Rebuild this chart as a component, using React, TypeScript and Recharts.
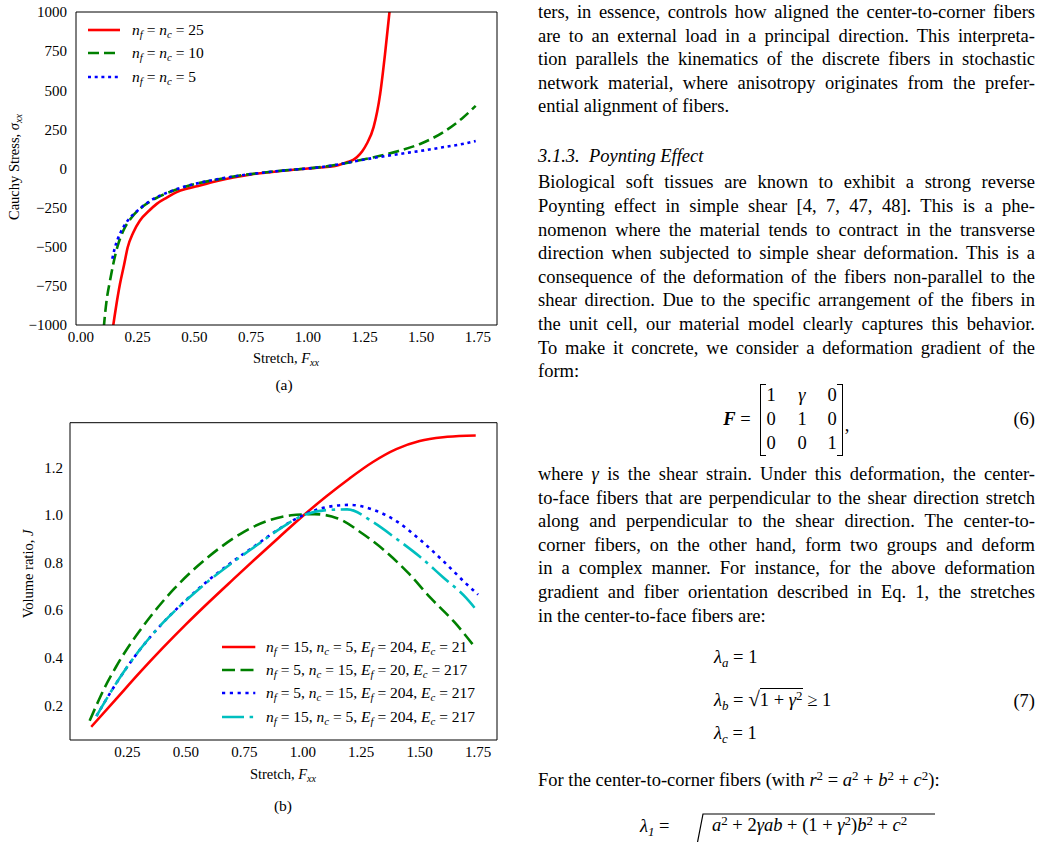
import React from 'react';
import { LineChart, Line, XAxis, YAxis, Legend } from 'recharts';

const SERIF = '"Liberation Serif", "Times New Roman", Times, serif';

// ---------- (a) Cauchy stress vs stretch ----------
const stretchTicksA = [0, 0.25, 0.5, 0.75, 1.0, 1.25, 1.5, 1.75];
const stressTicks = [-1000, -750, -500, -250, 0, 250, 500, 750, 1000];

const n25X = [0.135, 0.1425, 0.155, 0.172, 0.19, 0.206, 0.23, 0.26, 0.3, 0.334, 0.38, 0.422, 0.47, 0.525, 0.6, 0.672, 0.75, 0.819, 0.9, 1.0, 1.05, 1.114, 1.172, 1.2, 1.216, 1.24, 1.26, 1.29, 1.319, 1.341, 1.36, 1.375];
const n25Y = [-1080, -1000, -880, -737, -615, -503, -410, -332, -270, -226, -185, -151, -128, -108, -80, -57, -38, -26, -13, 0, 6, 15, 40, 55, 72, 110, 158, 264, 477, 740, 1000, 1220];

const n10X = [0.095, 0.1015, 0.113, 0.128, 0.1425, 0.16, 0.187, 0.224, 0.275, 0.33, 0.4, 0.5, 0.6, 0.7, 0.8, 0.9, 1.0, 1.1, 1.2, 1.3, 1.4, 1.5, 1.6, 1.68, 1.74];
const n10Y = [-1120, -1000, -843, -716, -609, -503, -396, -311, -240, -190, -145, -100, -70, -45, -27, -12, 0, 17, 44, 75, 112, 160, 235, 320, 400];

const n5X = [0.138, 0.15, 0.172, 0.2, 0.25, 0.3, 0.4, 0.5, 0.6, 0.7, 0.8, 0.9, 1.0, 1.1, 1.2, 1.3, 1.4, 1.5, 1.6, 1.7, 1.74];
const n5Y = [-577, -503, -417, -345, -268, -212, -143, -99, -69, -45, -27, -12, 0, 17, 44, 70, 92, 113, 137, 162, 176];

const legendA = ['25', '10', '5'];

// ---------- (b) volume ratio vs stretch ----------
const stretchTicksB = [0.25, 0.5, 0.75, 1.0, 1.25, 1.5, 1.75];
const volumeTicks = [0.2, 0.4, 0.6, 0.8, 1.0, 1.2];

const redBX = [0.095, 0.2, 0.3, 0.4, 0.5, 0.6, 0.7, 0.8, 0.9, 1.0, 1.1, 1.2, 1.3, 1.4, 1.5, 1.6, 1.7, 1.74];
const redBY = [0.11, 0.225, 0.335, 0.44, 0.54, 0.635, 0.727, 0.818, 0.907, 0.995, 1.077, 1.153, 1.222, 1.276, 1.31, 1.326, 1.332, 1.333];

const greenBX = [0.088, 0.117, 0.15, 0.2, 0.25, 0.3, 0.35, 0.4, 0.45, 0.55, 0.65, 0.75, 0.85, 0.95, 1.05, 1.15, 1.25, 1.35, 1.45, 1.55, 1.65, 1.74];
const greenBY = [0.135, 0.2, 0.27, 0.36, 0.44, 0.51, 0.575, 0.635, 0.69, 0.785, 0.865, 0.93, 0.975, 0.998, 1.003, 0.985, 0.925, 0.85, 0.757, 0.648, 0.548, 0.44];

const blueBX = [0.117, 0.2, 0.3, 0.4, 0.5, 0.6, 0.7, 0.8, 0.9, 1.0, 1.1, 1.2, 1.3, 1.4, 1.5, 1.6, 1.7, 1.75];
const blueBY = [0.155, 0.29, 0.43, 0.545, 0.642, 0.728, 0.804, 0.873, 0.942, 0.998, 1.032, 1.042, 1.022, 0.974, 0.897, 0.807, 0.71, 0.665];

const cyanBX = [0.117, 0.2, 0.3, 0.4, 0.5, 0.6, 0.7, 0.8, 0.9, 1.0, 1.1, 1.19, 1.3, 1.4, 1.5, 1.6, 1.7, 1.735];
const cyanBY = [0.155, 0.29, 0.43, 0.545, 0.64, 0.725, 0.8, 0.87, 0.94, 0.997, 1.02, 1.023, 0.97, 0.9, 0.825, 0.738, 0.65, 0.61];

const legendB = [
  { nf: '15', nc: '5', ef: '204', ec: '21' },
  { nf: '5', nc: '15', ef: '20', ec: '217' },
  { nf: '5', nc: '15', ef: '204', ec: '217' },
  { nf: '15', nc: '5', ef: '204', ec: '217' },
];

const zip = (xs: number[], ys: number[]) => xs.map((x, i) => ({ x, y: ys[i] }));

// minor tick positions (axis decoration only)
const steps = (from: number, to: number, step: number) => {
  const out: number[] = [];
  for (let v = from; v <= to + 1e-9; v += step) out.push(Math.round(v * 10000) / 10000);
  return out;
};

const frameA = {
  xDomain: [-0.022, 1.834] as [number, number],
  yDomain: [-1000, 1000] as [number, number],
  xMajor: stretchTicksA,
  xMinor: steps(0, 1.8, 0.05),
  yMajor: stressTicks,
  yMinor: steps(-1000, 1000, 50),
};

const frameB = {
  xDomain: [0.004, 1.831] as [number, number],
  yDomain: [0.0545, 1.387] as [number, number],
  xMajor: stretchTicksB,
  xMinor: steps(0.05, 1.8, 0.05),
  yMajor: volumeTicks,
  yMinor: steps(0.1, 1.35, 0.05),
};

const seriesA = [
  { key: 'n25', data: zip(n25X, n25Y), color: '#ff0000', dash: undefined },
  { key: 'n10', data: zip(n10X, n10Y), color: '#008000', dash: '11 5' },
  { key: 'n5', data: zip(n5X, n5Y), color: '#0000ff', dash: '3 3.7' },
];

const seriesB = [
  { key: 'r', data: zip(redBX, redBY), color: '#ff0000', dash: undefined },
  { key: 'g', data: zip(greenBX, greenBY), color: '#008000', dash: '13 5.5' },
  { key: 'b', data: zip(blueBX, blueBY), color: '#0000ff', dash: '3.2 4.6' },
  { key: 'c', data: zip(cyanBX, cyanBY), color: '#00bfbf', dash: '22 5.6 3.5 5.6' },
];

const Sub = ({ children, italic = true }: { children: React.ReactNode; italic?: boolean }) => (
  <span style={{ fontSize: '0.7em', position: 'relative', top: '0.3em', fontStyle: italic ? 'italic' : 'normal', lineHeight: 0 }}>{children}</span>
);
const Sup = ({ children }: { children: React.ReactNode }) => (
  <span style={{ fontSize: '0.7em', position: 'relative', top: '-0.45em', lineHeight: 0 }}>{children}</span>
);

const fmtStress = (v: number) => (v < 0 ? `\u2212${Math.abs(v)}` : `${v}`);
const fmt1 = (v: number) => v.toFixed(1);
const fmt2 = (v: number) => v.toFixed(2);

const tickFont = { fill: '#000', fontSize: 15, fontFamily: SERIF };

function mainAxes(f: typeof frameA, yFmt: (v: number) => string, yWidth: number, yMargin: number) {
  return [
    <XAxis key="x" xAxisId="x" dataKey="x" type="number" domain={f.xDomain} allowDataOverflow ticks={f.xMajor}
      interval={0} tickFormatter={fmt2} tickLine={false} axisLine={{ stroke: '#000', strokeWidth: 1 }}
      tick={tickFont} height={25} tickMargin={0} />,
    <YAxis key="y" yAxisId="y" type="number" domain={f.yDomain} allowDataOverflow ticks={f.yMajor}
      interval={0} tickFormatter={yFmt} tickLine={false} axisLine={{ stroke: '#000', strokeWidth: 1 }}
      tick={tickFont} width={yWidth} tickMargin={yMargin} />,
  ];
}

// inward major/minor ticks on all four sides
function frameAxes(f: typeof frameA) {
  const tl = { stroke: '#000', strokeWidth: 1 };
  const frame = { stroke: '#000', strokeWidth: 1 };
  return [
    <XAxis key="bM" xAxisId="bM" type="number" orientation="bottom" mirror domain={f.xDomain} allowDataOverflow ticks={f.xMajor} interval={0} tick={false} tickLine={tl} tickSize={5.5} axisLine={false} />,
    <XAxis key="bm" xAxisId="bm" type="number" orientation="bottom" mirror domain={f.xDomain} allowDataOverflow ticks={f.xMinor} interval={0} tick={false} tickLine={tl} tickSize={3} axisLine={false} />,
    <XAxis key="tM" xAxisId="tM" type="number" orientation="top" mirror domain={f.xDomain} allowDataOverflow ticks={f.xMajor} interval={0} tick={false} tickLine={tl} tickSize={5.5} axisLine={frame} />,
    <XAxis key="tm" xAxisId="tm" type="number" orientation="top" mirror domain={f.xDomain} allowDataOverflow ticks={f.xMinor} interval={0} tick={false} tickLine={tl} tickSize={3} axisLine={false} />,
    <YAxis key="lM" yAxisId="lM" type="number" orientation="left" mirror domain={f.yDomain} allowDataOverflow ticks={f.yMajor} interval={0} tick={false} tickLine={tl} tickSize={5.5} axisLine={false} />,
    <YAxis key="lm" yAxisId="lm" type="number" orientation="left" mirror domain={f.yDomain} allowDataOverflow ticks={f.yMinor} interval={0} tick={false} tickLine={tl} tickSize={3} axisLine={false} />,
    <YAxis key="rM" yAxisId="rM" type="number" orientation="right" mirror domain={f.yDomain} allowDataOverflow ticks={f.yMajor} interval={0} tick={false} tickLine={tl} tickSize={5.5} axisLine={frame} />,
    <YAxis key="rm" yAxisId="rm" type="number" orientation="right" mirror domain={f.yDomain} allowDataOverflow ticks={f.yMinor} interval={0} tick={false} tickLine={tl} tickSize={3} axisLine={false} />,
  ];
}

type Entry = { color: string; dash?: string; label: React.ReactNode };

function LegendBox({ entries, rowH, sampleLen, textX, fontSize }: { entries: Entry[]; rowH: number; sampleLen: number; textX: number; fontSize: number }) {
  return (
    <div style={{ fontFamily: SERIF, fontSize, color: '#000' }}>
      {entries.map((e, i) => (
        <div key={i} style={{ display: 'flex', alignItems: 'center', height: rowH, whiteSpace: 'nowrap' }}>
          <svg width={textX} height={10} style={{ flex: 'none' }}>
            <line x1={2} y1={5} x2={2 + sampleLen} y2={5} stroke={e.color} strokeWidth={2.6} strokeDasharray={e.dash} />
          </svg>
          <span>{e.label}</span>
        </div>
      ))}
    </div>
  );
}

const entriesA: Entry[] = legendA.map((n, i) => ({
  color: seriesA[i].color,
  dash: seriesA[i].dash,
  label: (<><i>n</i><Sub>f</Sub> = <i>n</i><Sub>c</Sub> = {n}</>),
}));

const entriesB: Entry[] = legendB.map((p, i) => ({
  color: seriesB[i].color,
  dash: seriesB[i].dash,
  label: (<><i>n</i><Sub>f</Sub> = {p.nf}, <i>n</i><Sub>c</Sub> = {p.nc}, <i>E</i><Sub>f</Sub> = {p.ef}, <i>E</i><Sub>c</Sub> = {p.ec}</>),
}));

function renderLines(series: typeof seriesA) {
  return series.map((s) => (
    <Line key={s.key} xAxisId="x" yAxisId="y" data={s.data} dataKey="y" type="monotone" stroke={s.color}
      strokeWidth={2.6} strokeDasharray={s.dash} dot={false} activeDot={false} isAnimationActive={false} />
  ));
}

const centered = (left: number, top: number, extra: React.CSSProperties = {}): React.CSSProperties => ({
  position: 'absolute', left, top, transform: 'translate(-50%, -50%)', whiteSpace: 'nowrap', ...extra,
});

// ---------- right column text ----------
const TEXT_LEFT = 538;
const TEXT_W = 497;
const bodyLines: { y: number; t: React.ReactNode; last?: boolean; italic?: boolean }[] = [
  { y: 14, t: 'ters, in essence, controls how aligned the center-to-corner fibers' },
  { y: 37.6, t: 'are to an external load in a principal direction. This interpreta-' },
  { y: 61.2, t: 'tion parallels the kinematics of the discrete fibers in stochastic' },
  { y: 84.8, t: 'network material, where anisotropy originates from the prefer-' },
  { y: 108.4, t: 'ential alignment of fibers.', last: true },
  { y: 158, t: '3.1.3.\u2002Poynting Effect', last: true, italic: true },
  { y: 184.3, t: 'Biological soft tissues are known to exhibit a strong reverse' },
  { y: 207.9, t: 'Poynting effect in simple shear [4, 7, 47, 48].  This is a phe-' },
  { y: 231.5, t: 'nomenon where the material tends to contract in the transverse' },
  { y: 255.1, t: 'direction when subjected to simple shear deformation. This is a' },
  { y: 278.7, t: 'consequence of the deformation of the fibers non-parallel to the' },
  { y: 302.3, t: 'shear direction. Due to the specific arrangement of the fibers in' },
  { y: 325.9, t: 'the unit cell, our material model clearly captures this behavior.' },
  { y: 349.5, t: 'To make it concrete, we consider a deformation gradient of the' },
  { y: 373.1, t: 'form:', last: true },
  { y: 476, t: (<>where <i>γ</i> is the shear strain. Under this deformation, the center-</>) },
  { y: 499.6, t: 'to-face fibers that are perpendicular to the shear direction stretch' },
  { y: 523.2, t: 'along and perpendicular to the shear direction.  The center-to-' },
  { y: 546.8, t: 'corner fibers, on the other hand, form two groups and deform' },
  { y: 570.4, t: 'in a complex manner.  For instance, for the above deformation' },
  { y: 594, t: 'gradient and fiber orientation described in Eq. 1, the stretches' },
  { y: 617.6, t: 'in the center-to-face fibers are:', last: true },
  { y: 781.7, t: (<>For the center-to-corner fibers (with <i>r</i><Sup>2</Sup> = <i>a</i><Sup>2</Sup> + <i>b</i><Sup>2</Sup> + <i>c</i><Sup>2</Sup>):</>), last: true },
];

const matrixRows = [['1', 'γ', '0'], ['0', '1', '0'], ['0', '0', '1']];
const matrixRowY = [395, 419, 443];
const matrixColX = [771, 802, 832];

export default function App() {
  const bodyStyle: React.CSSProperties = { fontSize: 18.5, lineHeight: '24px' };
  return (
    <div style={{ position: 'absolute', left: 0, top: 0, width: 1048, height: 842, overflow: 'hidden', background: '#fff', color: '#000', fontFamily: SERIF }}>
      {/* (a) */}
      <div style={{ position: 'absolute', left: 0, top: 0 }}>
        <LineChart width={520} height={350} margin={{ top: 12, right: 23, bottom: 0, left: 0 }}>
          {mainAxes(frameA, fmtStress, 76, 3)}
          {frameAxes(frameA)}
          {renderLines(seriesA)}
          <Legend layout="horizontal" verticalAlign="middle" align="center"
            wrapperStyle={{ left: 86, top: 18.3, width: 'auto', height: 'auto' }}
            content={() => <LegendBox entries={entriesA} rowH={23.3} sampleLen={32} textX={46} fontSize={15.5} />} />
        </LineChart>
      </div>
      <div style={centered(13.5, 167, { transform: 'translate(-50%, -50%) rotate(-90deg)', fontSize: 14.5 })}>
        Cauchy Stress, <i>σ</i><Sub>xx</Sub>
      </div>
      <div style={centered(286, 358, { fontSize: 14.5 })}>Stretch, <i>F</i><Sub>xx</Sub></div>
      <div style={centered(284, 385, { fontSize: 15.5 })}>(a)</div>

      {/* (b) */}
      <div style={{ position: 'absolute', left: 0, top: 400 }}>
        <LineChart width={520} height={365} margin={{ top: 22.7, right: 23, bottom: 0, left: 0 }}>
          {mainAxes(frameB, fmt1, 70, 1)}
          {frameAxes(frameB)}
          {renderLines(seriesB)}
          <Legend layout="horizontal" verticalAlign="middle" align="center"
            wrapperStyle={{ left: 219.7, top: 235, width: 'auto', height: 'auto' }}
            content={() => <LegendBox entries={entriesB} rowH={23.3} sampleLen={33.3} textX={46.3} fontSize={15.5} />} />
        </LineChart>
      </div>
      <div style={centered(28, 574, { transform: 'translate(-50%, -50%) rotate(-90deg)', fontSize: 14.5 })}>
        Volume ratio, <i>J</i>
      </div>
      <div style={centered(283, 774, { fontSize: 14.5 })}>Stretch, <i>F</i><Sub>xx</Sub></div>
      <div style={centered(283, 806, { fontSize: 15.5 })}>(b)</div>

      {/* right column */}
      {bodyLines.map((l, i) => (
        <div key={i} style={{
          position: 'absolute', left: TEXT_LEFT, top: l.y - 14, width: TEXT_W, ...bodyStyle,
          textAlign: 'justify', textAlignLast: l.last ? 'left' : 'justify', fontStyle: l.italic ? 'italic' : 'normal',
        }}>{l.t}</div>
      ))}

      {/* Eq. 6 */}
      <div style={centered(737, 419, bodyStyle)}><b><i>F</i></b> =</div>
      <div style={{ position: 'absolute', left: 760, top: 384, width: 5, height: 70, borderLeft: '1.2px solid #000', borderTop: '1.2px solid #000', borderBottom: '1.2px solid #000' }} />
      <div style={{ position: 'absolute', left: 837, top: 384, width: 5, height: 70, borderRight: '1.2px solid #000', borderTop: '1.2px solid #000', borderBottom: '1.2px solid #000' }} />
      {matrixRows.map((row, r) => row.map((v, c) => (
        <div key={`${r}-${c}`} style={centered(matrixColX[c], matrixRowY[r], { ...bodyStyle, fontStyle: v === 'γ' ? 'italic' : 'normal' })}>{v}</div>
      )))}
      <div style={centered(847, 425, bodyStyle)}>,</div>
      <div style={{ position: 'absolute', right: 13, top: 419 - 12, ...bodyStyle }}>(6)</div>

      {/* Eq. 7 */}
      <div style={{ position: 'absolute', left: 714, top: 659 - 14, ...bodyStyle }}><i>λ</i><Sub>a</Sub> = 1</div>
      <div style={{ position: 'absolute', left: 714, top: 701 - 14, ...bodyStyle, whiteSpace: 'nowrap' }}>
        <i>λ</i><Sub>b</Sub> = <span style={{ fontSize: '1.15em' }}>√</span><span style={{ borderTop: '1.2px solid #000', paddingTop: 1 }}>1 + <i>γ</i><Sup>2</Sup></span> ≥ 1
      </div>
      <div style={{ position: 'absolute', left: 714, top: 735 - 14, ...bodyStyle }}><i>λ</i><Sub>c</Sub> = 1</div>
      <div style={{ position: 'absolute', right: 13, top: 701 - 12, ...bodyStyle }}>(7)</div>

      {/* start of next equation at page bottom */}
      <svg width={1048} height={842} style={{ position: 'absolute', left: 0, top: 0, pointerEvents: 'none' }}>
        <polyline points="696,850 703,814 935,814" fill="none" stroke="#000" strokeWidth={1.2} />
      </svg>
      <div style={{ position: 'absolute', left: 712, top: 827 - 14, ...bodyStyle, whiteSpace: 'nowrap' }}>
        <i>a</i><Sup>2</Sup> + 2<i>γab</i> + (1 + <i>γ</i><Sup>2</Sup>)<i>b</i><Sup>2</Sup> + <i>c</i><Sup>2</Sup>
      </div>
      <div style={{ position: 'absolute', left: 640, top: 815, fontSize: 18.5, lineHeight: '22px', whiteSpace: 'nowrap' }}>
        <i>λ</i><Sub>1</Sub> =
      </div>
    </div>
  );
}
